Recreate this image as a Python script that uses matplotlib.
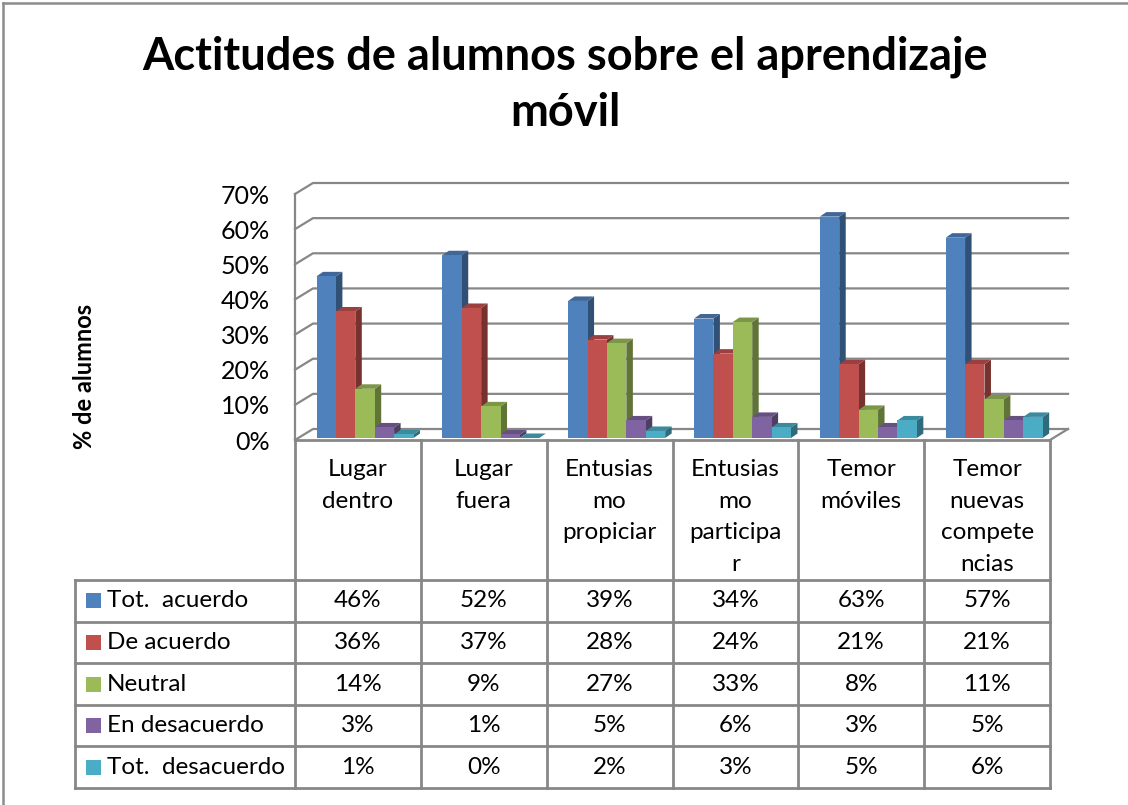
import matplotlib
matplotlib.use('Agg')
import matplotlib.pyplot as plt
from matplotlib.patches import Polygon, Rectangle
from matplotlib.lines import Line2D
import numpy as np

plt.rcParams['font.family'] = ['Lato', 'DejaVu Sans']

# ---------------- data ----------------
categories = ["Lugar\ndentro", "Lugar\nfuera", "Entusias\nmo\npropiciar",
              "Entusias\nmo\nparticipa\nr", "Temor\nmóviles",
              "Temor\nnuevas\ncompete\nncias"]
series_names = ["Tot.  acuerdo", "De acuerdo", "Neutral", "En desacuerdo", "Tot.  desacuerdo"]
tot_acuerdo = [46, 52, 39, 34, 63, 57]
de_acuerdo = [36, 37, 28, 24, 21, 21]
neutral = [14, 9, 27, 33, 8, 11]
en_desacuerdo = [3, 1, 5, 6, 3, 5]
tot_desacuerdo = [1, 0, 2, 3, 5, 6]
series_values = [tot_acuerdo, de_acuerdo, neutral, en_desacuerdo, tot_desacuerdo]
colors = ["#4F81BD", "#C0504D", "#9BBB59", "#8064A2", "#4BACC6"]
y_ticks = [0, 10, 20, 30, 40, 50, 60, 70]
y_tick_labels = ["0%", "10%", "20%", "30%", "40%", "50%", "60%", "70%"]
title_lines = ["Actitudes de alumnos sobre el aprendizaje", "móvil"]
y_label = "% de alumnos"

# ---------------- layout ----------------
W, H = 1128, 805
fig = plt.figure(figsize=(W / 100, H / 100), dpi=100)
fig.patch.set_facecolor('white')

GRID = '#878787'
LINE = '#878787'

PX_L, PX_R = 295, 1050
PX_Y0, PX_Y70 = 440, 194
ncat = len(categories)
ax = fig.add_axes([PX_L / W, 1 - PX_Y0 / H, (PX_R - PX_L) / W, (PX_Y0 - PX_Y70) / H])
ax.set_xlim(0, ncat)
ax.set_ylim(0, 70)
ax.set_facecolor('none')
for s in ax.spines.values():
    s.set_visible(False)
ax.set_xticks([])
ax.set_yticks(y_ticks)
ax.set_yticklabels(y_tick_labels, fontsize=18)
ax.tick_params(axis='y', length=0, pad=18, colors='black')

xu = (PX_R - PX_L) / ncat          # px per category unit
yu = (PX_Y0 - PX_Y70) / 70.0       # px per percent

# wall depth
wdx, wdy = 18 / xu, 11 / yu
for v in y_ticks:
    ax.add_line(Line2D([0, wdx, ncat + wdx], [v, v + wdy, v + wdy], color=GRID, lw=1.6,
                       clip_on=False, zorder=1))
ax.add_line(Line2D([0, 0], [0, 70], color=GRID, lw=1.6, clip_on=False, zorder=1))
ax.add_line(Line2D([ncat, ncat + wdx], [0, wdy], color=GRID, lw=1.6, clip_on=False, zorder=1))

# bars
bdx, bdy = 6.5 / xu, 4.5 / yu
bx0, by0 = 1.5 / xu, 2.0 / yu
bw = 19.4 / xu
goff = 20 / xu


def shade(c, f):
    r, g, b = matplotlib.colors.to_rgb(c)
    return (r * f, g * f, b * f)


z = 3
for ci in range(ncat):
    for si, vals in enumerate(series_values):
        v = vals[ci]
        x0 = ci + goff + si * bw + bx0
        x1 = x0 + bw
        yb = by0
        yt = by0 + v
        col = colors[si]
        front = Rectangle((x0, yb), bw, v, facecolor=col, edgecolor='none',
                          clip_on=False, zorder=z)
        side = Polygon([(x1, yb), (x1 + bdx, yb + bdy), (x1 + bdx, yt + bdy), (x1, yt)],
                       closed=True, facecolor=shade(col, 0.62), edgecolor='none',
                       clip_on=False, zorder=z)
        top = Polygon([(x0, yt), (x0 + bdx, yt + bdy), (x1 + bdx, yt + bdy), (x1, yt)],
                      closed=True, facecolor=shade(col, 0.8), edgecolor='none',
                      clip_on=False, zorder=z)
        ax.add_patch(side)
        ax.add_patch(top)
        ax.add_patch(front)
        z += 1

# ---------------- overlay (title, table, border) ----------------
ov = fig.add_axes([0, 0, 1, 1], zorder=-1)
ov.set_xlim(0, W)
ov.set_ylim(H, 0)
ov.axis('off')

ov.add_line(Line2D([3, W], [3.5, 3.5], color='#8c8c8c', lw=1.8))
ov.add_line(Line2D([3, 3], [3.5, H], color='#8c8c8c', lw=1.8))

ov.text(565, 70, title_lines[0], ha='center', va='baseline', fontsize=32.5, fontweight='bold')
ov.text(565, 126, title_lines[1], ha='center', va='baseline', fontsize=32.5, fontweight='bold')
ov.text(85, 376, y_label, ha='center', va='center', rotation=90, fontsize=17,
        fontweight='bold')

# table
col_edges = [PX_L + i * xu for i in range(ncat + 1)]
TOP = 440
HDR = 580
rh = (788 - HDR) / len(series_names)
row_edges = [HDR + i * rh for i in range(len(series_names) + 1)]
TL = 75

ov.add_line(Line2D([PX_L, PX_R], [TOP, TOP], color=LINE, lw=2))
for e in col_edges:
    ov.add_line(Line2D([e, e], [TOP, row_edges[-1]], color=LINE, lw=2))
ov.add_line(Line2D([TL, TL], [HDR, row_edges[-1]], color=LINE, lw=2))
for r in row_edges:
    ov.add_line(Line2D([TL, PX_R], [r, r], color=LINE, lw=2))

for ci, cat in enumerate(categories):
    cx = (col_edges[ci] + col_edges[ci + 1]) / 2
    ov.text(cx, 459, cat, ha='center', va='top', fontsize=17.5, linespacing=1.62)

for si, name in enumerate(series_names):
    cy = (row_edges[si] + row_edges[si + 1]) / 2
    ov.add_patch(Rectangle((86, cy - 7.5), 15, 15, facecolor=colors[si], edgecolor='none'))
    ov.text(107, cy, name, ha='left', va='center', fontsize=17.5)
    for ci in range(ncat):
        cx = (col_edges[ci] + col_edges[ci + 1]) / 2
        ov.text(cx, cy, f"{series_values[si][ci]}%", ha='center', va='center', fontsize=17.5)

fig.savefig('out.png', dpi=100, facecolor='white')
